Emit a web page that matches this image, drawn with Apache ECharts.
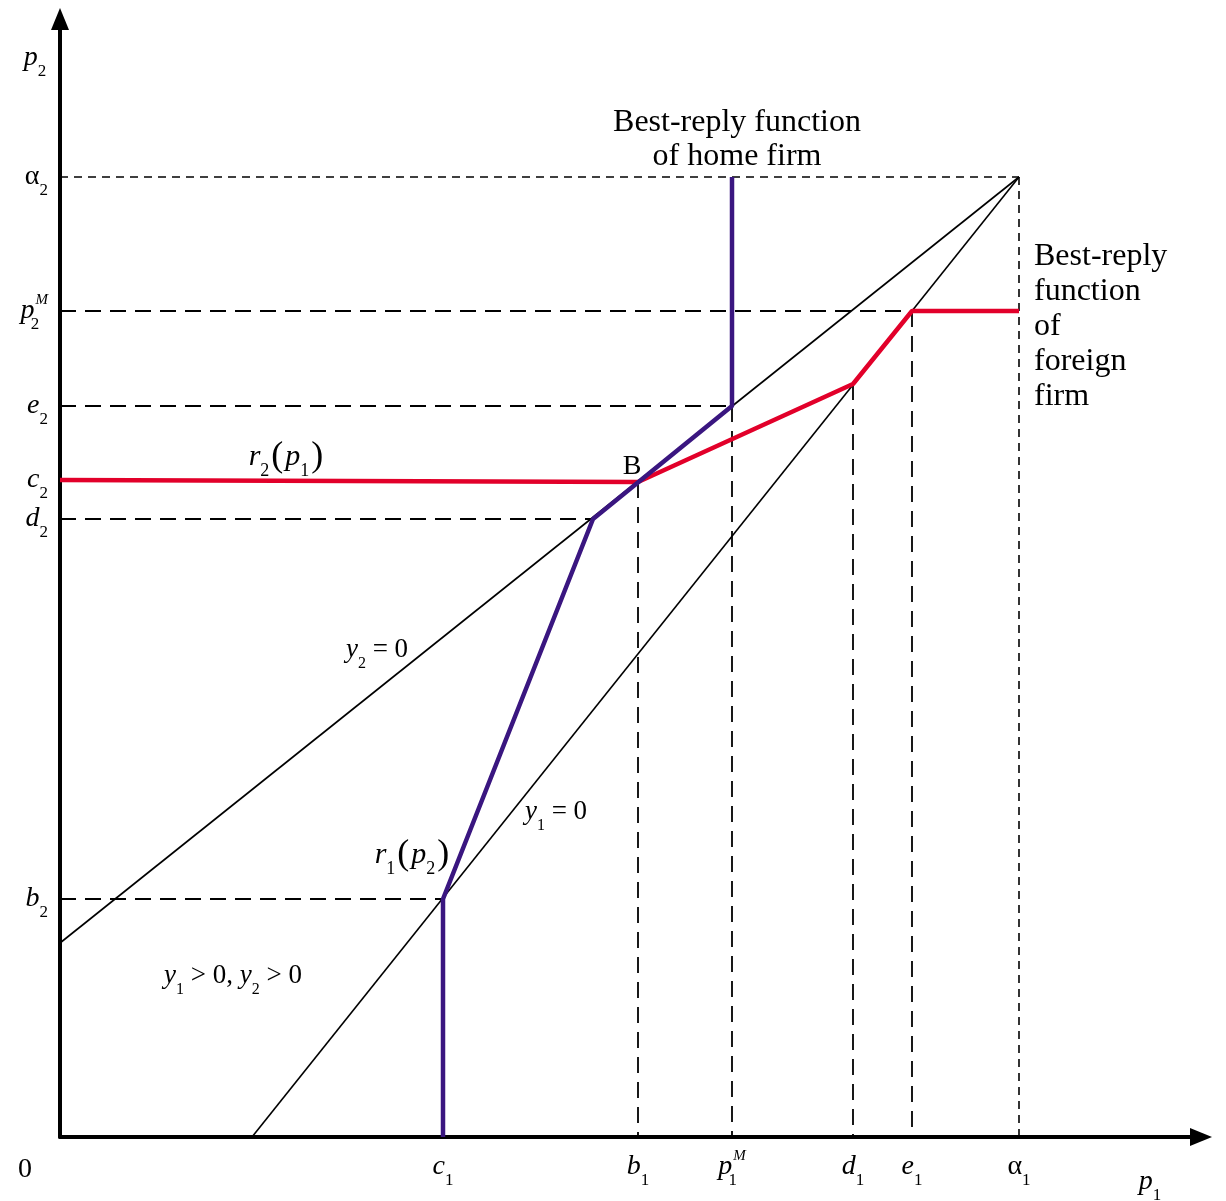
<!DOCTYPE html>
<html>
<head>
<meta charset="utf-8">
<script src="https://cdn.jsdelivr.net/npm/echarts@6/dist/echarts.min.js"></script>
<style>html,body{margin:0;padding:0;background:#fff}#c{width:1226px;height:1201px}</style>
</head>
<body>
<div id="c"></div>
<script>
// ---- data (units measured from the origin of the picture) ----
const xTicks = [383, 578, 672, 793, 852, 959];
const xTickLabels = ['c_1', 'b_1', 'p_1^M', 'd_1', 'e_1', 'α_1'];
const yTicks = [238, 618, 657, 731, 826, 960];
const yTickLabels = ['b_2', 'd_2', 'c_2', 'e_2', 'p_2^M', 'α_2'];

const lineY2Zero = [[0, 194], [959, 960]];
const lineY1Zero = [[192, 0], [959, 960]];
const homeReply = [[383, 0], [383, 238], [533, 618], [672, 731], [672, 960]];
const foreignReply = [[0, 657], [578, 655], [793, 753], [852, 826], [959, 826]];

const guideLong = [
  [[0, 826], [852, 826]],
  [[0, 731], [672, 731]],
  [[0, 618], [533, 618]],
  [[0, 238], [383, 238]],
  [[578, 655], [578, 0]],
  [[672, 731], [672, 0]],
  [[793, 753], [793, 0]],
  [[852, 826], [852, 0]]
];
const guideShort = [
  [[0, 960], [959, 960]],
  [[959, 960], [959, 0]]
];

const annoTexts = ['r_2(p_1)', 'r_1(p_2)', 'y_2 = 0', 'y_1 = 0', 'y_1 > 0, y_2 > 0', 'B'];
const annoPoints = [[227, 680], [353, 282], [317, 487], [496, 325], [173, 161], [572, 670]];
const noteHome = 'Best-reply function\nof home firm';
const noteHomePoint = [677, 997];
const noteForeign = 'Best-reply\nfunction\nof\nforeign\nfirm';
const noteForeignPoint = [974, 810];
const axisNames = ['p_2', 'p_1', '0'];
const axisNamePoints = [[-25, 1079], [1090, -45], [-35, -33]];

// ---- text helpers ----
const SERIF = '"Liberation Serif","Times New Roman",serif';
const NOB = {textBorderWidth: 0, textBorderColor: 'transparent', textShadowBlur: 0};
function richFor(sz) {
  const sub = Math.round(sz * 0.6);
  const lh = sz + 16;
  const base = Object.assign({fontFamily: SERIF, color: '#000', fontWeight: 'normal'}, NOB);
  return {
    i: Object.assign({}, base, {fontStyle: 'italic', fontSize: sz, lineHeight: lh}),
    u: Object.assign({}, base, {fontSize: sz, lineHeight: lh}),
    pr: Object.assign({}, base, {fontSize: Math.round(sz * 1.2), lineHeight: lh, padding: [0, 2, 0, 2]}),
    s: Object.assign({}, base, {fontSize: sub, lineHeight: Math.round(sz * 0.55), verticalAlign: 'bottom'}),
    ss: Object.assign({}, base, {fontSize: sub, lineHeight: Math.round(sz * 0.55), verticalAlign: 'bottom', align: 'left', width: 1}),
    sup: Object.assign({}, base, {fontStyle: 'italic', fontSize: Math.round(sz * 0.52), lineHeight: Math.round(sz * 0.45), verticalAlign: 'top', align: 'left', padding: [4, 0, 0, 0]})
  };
}
function toRich(str) {
  let out = '';
  for (let k = 0; k < str.length; k++) {
    const ch = str[k];
    if (ch === '_') {
      const v = str[k + 1];
      if (str[k + 2] === '^') {
        out += '{ss|' + v + '}{sup|' + str[k + 3] + '}';
        k += 3;
      } else {
        out += '{s|' + v + '}';
        k += 1;
      }
    } else if (ch === '^') {
      out += '{sup|' + str[k + 1] + '}';
      k += 1;
    } else if (ch === '(' || ch === ')') {
      out += '{pr|' + ch + '}';
    } else if (/[a-zA-Z]/.test(ch) && ch !== 'B') {
      out += '{i|' + ch + '}';
    } else {
      out += '{u|' + ch + '}';
    }
  }
  return out;
}
const tickRich = richFor(28);
const xLabelMap = {}; xTicks.forEach((v, k) => xLabelMap[v] = toRich(xTickLabels[k]));
const yLabelMap = {}; yTicks.forEach((v, k) => yLabelMap[v] = toRich(yTickLabels[k]));

function lineSeries(data, color, width, type, z) {
  return {type: 'line', data: data, symbol: 'none', silent: true, z: z,
    lineStyle: {color: color, width: width, type: type}, animation: false};
}
function labelSeries(point, text, labelOpt) {
  return {type: 'scatter', data: [point], symbolSize: 0, silent: true, clip: false, z: 10,
    itemStyle: {color: '#000'},
    label: Object.assign({show: true, position: 'inside', formatter: text, color: '#000', opacity: 1}, NOB, labelOpt),
    animation: false};
}

const series = [];
guideLong.forEach(g => series.push(lineSeries(g, '#000', 1.8, [16, 9], 1)));
guideShort.forEach(g => series.push(lineSeries(g, '#000', 1.6, [8, 6], 1)));
series.push(lineSeries(lineY2Zero, '#000', 1.6, 'solid', 2));
series.push(lineSeries(lineY1Zero, '#000', 1.6, 'solid', 2));
series.push(lineSeries(foreignReply, '#e2002a', 4.5, 'solid', 3));
series.push(lineSeries(homeReply, '#3a1680', 4.5, 'solid', 4));

const annoSizes = [30, 30, 27, 27, 27, 28];
annoTexts.forEach((t, k) => series.push(labelSeries(annoPoints[k], toRich(t), {rich: richFor(annoSizes[k])})));
series.push(labelSeries(noteHomePoint, noteHome, {fontFamily: SERIF, fontSize: 32, lineHeight: 34, align: 'center'}));
series.push(labelSeries(noteForeignPoint, noteForeign, {position: 'right', distance: 0, fontFamily: SERIF, fontSize: 32, lineHeight: 35, align: 'left'}));
axisNames.forEach((t, k) => series.push(labelSeries(axisNamePoints[k], toRich(t), {rich: richFor(28)})));

const chart = echarts.init(document.getElementById('c'), null, {renderer: 'canvas'});
chart.setOption({
  backgroundColor: '#fff',
  animation: false,
  grid: {left: 60, top: 19, width: 1141, bottom: 64, containLabel: false},
  xAxis: {
    type: 'value', min: 0, max: 1141,
    axisLine: {show: true, onZero: false, symbol: ['none', 'triangle'], symbolSize: [18, 22], lineStyle: {color: '#000', width: 4}},
    axisTick: {show: false},
    splitLine: {show: false},
    axisLabel: {customValues: xTicks, margin: 8, formatter: v => xLabelMap[v] || '', rich: tickRich}
  },
  yAxis: {
    type: 'value', min: 0, max: 1118,
    axisLine: {show: true, onZero: false, symbol: ['none', 'triangle'], symbolSize: [18, 22], lineStyle: {color: '#000', width: 4}},
    axisTick: {show: false},
    splitLine: {show: false},
    axisLabel: {customValues: yTicks, margin: 12, formatter: v => yLabelMap[v] || '', rich: tickRich}
  },
  series: series
});
</script>
</body>
</html>
